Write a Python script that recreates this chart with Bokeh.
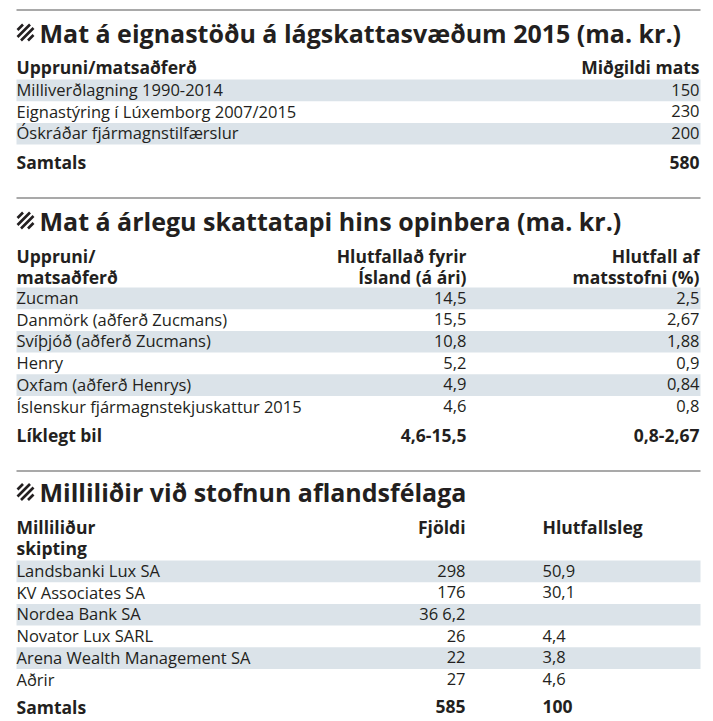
from bokeh.plotting import figure
from bokeh.models import Range1d
from bokeh.core.properties import value
from bokeh.embed import file_html
from bokeh.resources import INLINE

# ---------------- data ----------------
t1_title = "Mat á eignastöðu á lágskattasvæðum 2015 (ma. kr.)"
t1_head_label = ["Uppruni/matsaðferð"]
t1_head_value = ["Miðgildi mats"]
t1_labels = ["Milliverðlagning 1990-2014", "Eignastýring í Lúxemborg 2007/2015", "Óskráðar fjármagnstilfærslur"]
t1_values = ["150", "230", "200"]
t1_total = ["Samtals", "580"]

t2_title = "Mat á árlegu skattatapi hins opinbera (ma. kr.)"
t2_head_label = ["Uppruni/", "matsaðferð"]
t2_head_col1 = ["Hlutfallað fyrir", "Ísland (á ári)"]
t2_head_col2 = ["Hlutfall af", "matsstofni (%)"]
t2_labels = ["Zucman", "Danmörk (aðferð Zucmans)", "Svíþjóð (aðferð Zucmans)", "Henry",
             "Oxfam (aðferð Henrys)", "Íslenskur fjármagnstekjuskattur 2015"]
t2_iceland = ["14,5", "15,5", "10,8", "5,2", "4,9", "4,6"]
t2_share = ["2,5", "2,67", "1,88", "0,9", "0,84", "0,8"]
t2_total = ["Líklegt bil", "4,6-15,5", "0,8-2,67"]

t3_title = "Milliliðir við stofnun aflandsfélaga"
t3_head_label = ["Milliliður", "skipting"]
t3_head_col1 = ["Fjöldi"]
t3_head_col2 = ["Hlutfallsleg"]
t3_labels = ["Landsbanki Lux SA", "KV Associates SA", "Nordea Bank SA", "Novator Lux SARL",
             "Arena Wealth Management SA", "Aðrir"]
t3_count = ["298", "176", "36 6,2", "26", "22", "27"]
t3_share = ["50,9", "30,1", "", "4,4", "3,8", "4,6"]
t3_total = ["Samtals", "585", "100"]

# ---------------- style / layout ----------------
INK = "#231f20"
BAND = "#dbe3e9"
RULE = "#8c8c8c"
FONT = "Open Sans"
TITLE_SIZE = "25px"
HEAD_SIZE = "17.5px"
BODY_SIZE = "16.5px"
L, R = 16, 700
PITCH = 21.7

W, H = 713, 721
p = figure(width=W, height=H, output_backend="svg", toolbar_location=None,
           x_range=Range1d(0, W), y_range=Range1d(H, 0),
           min_border=0, outline_line_color=None)
p.axis.visible = False
p.grid.visible = False
p.background_fill_color = "white"
p.border_fill_color = "white"


def txt(xs, ys, texts, align, bold=False, size=BODY_SIZE):
    # ys are the vertical centres of the capital letters
    p.text(x=xs, y=ys, text=texts, text_align=align, text_baseline="middle",
           text_font=value(FONT), text_font_size=size,
           text_font_style="bold" if bold else "normal", text_color=INK)


def icon(mid):
    # four diagonal stripes inside a 16x16 square centred on the title's cap line
    x0, y0, s = L + 1, mid + 8, 16
    xs0, ys0, xs1, ys1 = [], [], [], []
    for b in (-10.5, -3.5, 3.5, 10.5):
        if b < 0:
            u0, v0, u1, v1 = -b, 0, s, s + b
        else:
            u0, v0, u1, v1 = 0, b, s - b, s
        xs0.append(x0 + u0); ys0.append(y0 - v0)
        xs1.append(x0 + u1); ys1.append(y0 - v1)
    p.segment(x0=xs0, y0=ys0, x1=xs1, y1=ys1, line_color=INK, line_width=2.6)


def section(rule_y, title_mid, title, head_label, head_mids, head_cols, band_top,
            labels, cols, totals, total_mid):
    p.segment(x0=[L], x1=[R], y0=[rule_y], y1=[rule_y], line_color=RULE, line_width=1.5)
    icon(title_mid)
    txt([L + 23], [title_mid], [title], "left", bold=True, size=TITLE_SIZE)
    n = len(labels)
    tops = [band_top + i * PITCH for i in range(n)]
    shaded = [t for i, t in enumerate(tops) if i % 2 == 0]
    p.quad(left=L, right=R, top=shaded, bottom=[t + PITCH for t in shaded],
           fill_color=BAND, line_color=None)
    mids = [t + 10 for t in tops]
    txt([L] * n, mids, labels, "left")
    txt([L] * len(head_label), head_mids[:len(head_label)], head_label, "left", bold=True, size=HEAD_SIZE)
    for (x, align, heads), vals, tot in zip(head_cols, cols, totals[1:]):
        txt([x] * len(heads), head_mids[:len(heads)], heads, align, bold=True, size=HEAD_SIZE)
        txt([x] * n, mids, vals, align)
        txt([x], [total_mid], [tot], align, bold=True, size=HEAD_SIZE)
    txt([L], [total_mid], [totals[0]], "left", bold=True, size=HEAD_SIZE)


section(9.5, 32, t1_title, t1_head_label, [66], [(699, "right", t1_head_value)],
        79, t1_labels, [t1_values], t1_total, 161.5)

section(197.5, 220, t2_title, t2_head_label, [255, 276.5],
        [(466, "right", t2_head_col1), (699, "right", t2_head_col2)],
        287, t2_labels, [t2_iceland, t2_share], t2_total, 434.5)

section(470.5, 491.5, t3_title, t3_head_label, [526.5, 547],
        [(465, "right", t3_head_col1), (542, "left", t3_head_col2)],
        560, t3_labels, [t3_count, t3_share], t3_total, 706)

open("out.html", "w").write(file_html(p, INLINE))
